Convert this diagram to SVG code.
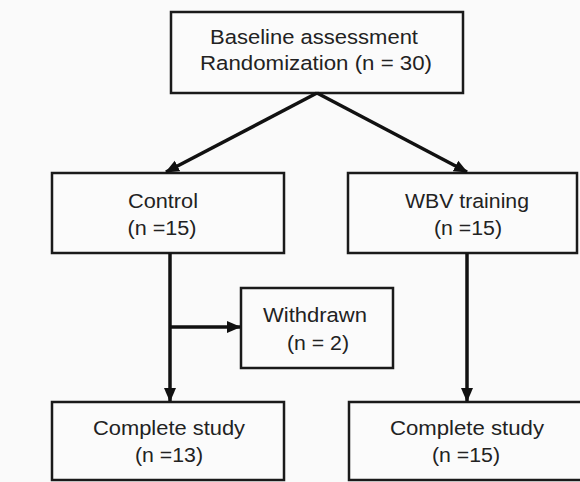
<svg xmlns="http://www.w3.org/2000/svg" width="580" height="482" viewBox="0 0 580 482">
<style>
.box{fill:#fbfbfb;stroke:#1a1a1a;stroke-width:2.5}
.t{font-family:"Liberation Sans",Arial,sans-serif;font-size:20.5px;fill:#222;text-anchor:middle}
.c{fill:none;stroke:#111;stroke-width:3.5}
</style>
<defs>
<marker id="ah" markerUnits="userSpaceOnUse" markerWidth="14" markerHeight="14" viewBox="0 0 14 14" refX="13" refY="7" orient="auto">
<path d="M0,1 L14,7 L0,13 Z" fill="#111"/>
</marker>
</defs>
<rect width="580" height="482" fill="#fafafa"/>
<g id="baseline">
<rect class="box" x="171" y="12" width="292" height="81"/>
<text class="t" x="314" y="44" textLength="208" lengthAdjust="spacingAndGlyphs">Baseline assessment</text>
<text class="t" x="316" y="70" textLength="232" lengthAdjust="spacingAndGlyphs">Randomization (n = 30)</text>
</g>
<g id="control">
<rect class="box" x="52" y="173" width="232" height="80"/>
<text class="t" x="163" y="208" textLength="70" lengthAdjust="spacingAndGlyphs">Control</text>
<text class="t" x="162" y="235" textLength="69" lengthAdjust="spacingAndGlyphs">(n =15)</text>
</g>
<g id="wbv">
<rect class="box" x="348" y="173" width="229" height="80"/>
<text class="t" x="467" y="208" textLength="124" lengthAdjust="spacingAndGlyphs">WBV training</text>
<text class="t" x="468" y="235" textLength="68" lengthAdjust="spacingAndGlyphs">(n =15)</text>
</g>
<g id="withdrawn">
<rect class="box" x="241" y="288" width="152" height="80"/>
<text class="t" x="315" y="322" textLength="104" lengthAdjust="spacingAndGlyphs">Withdrawn</text>
<text class="t" x="318" y="350" textLength="62" lengthAdjust="spacingAndGlyphs">(n = 2)</text>
</g>
<g id="complete-left">
<rect class="box" x="52" y="402" width="232" height="78"/>
<text class="t" x="169" y="435" textLength="152" lengthAdjust="spacingAndGlyphs">Complete study</text>
<text class="t" x="169" y="462" textLength="68" lengthAdjust="spacingAndGlyphs">(n =13)</text>
</g>
<g id="complete-right">
<rect class="box" x="349" y="402" width="240" height="78"/>
<text class="t" x="467" y="435" textLength="154" lengthAdjust="spacingAndGlyphs">Complete study</text>
<text class="t" x="466" y="462" textLength="68" lengthAdjust="spacingAndGlyphs">(n =15)</text>
</g>
<g id="connectors">
<line class="c" x1="317" y1="93" x2="166" y2="172" marker-end="url(#ah)"/>
<line class="c" x1="317" y1="93" x2="467" y2="172" marker-end="url(#ah)"/>
<line class="c" x1="170" y1="253" x2="170" y2="401" marker-end="url(#ah)"/>
<line class="c" x1="170" y1="327" x2="240" y2="327" marker-end="url(#ah)"/>
<line class="c" x1="467" y1="253" x2="467" y2="401" marker-end="url(#ah)"/>
</g>
</svg>
